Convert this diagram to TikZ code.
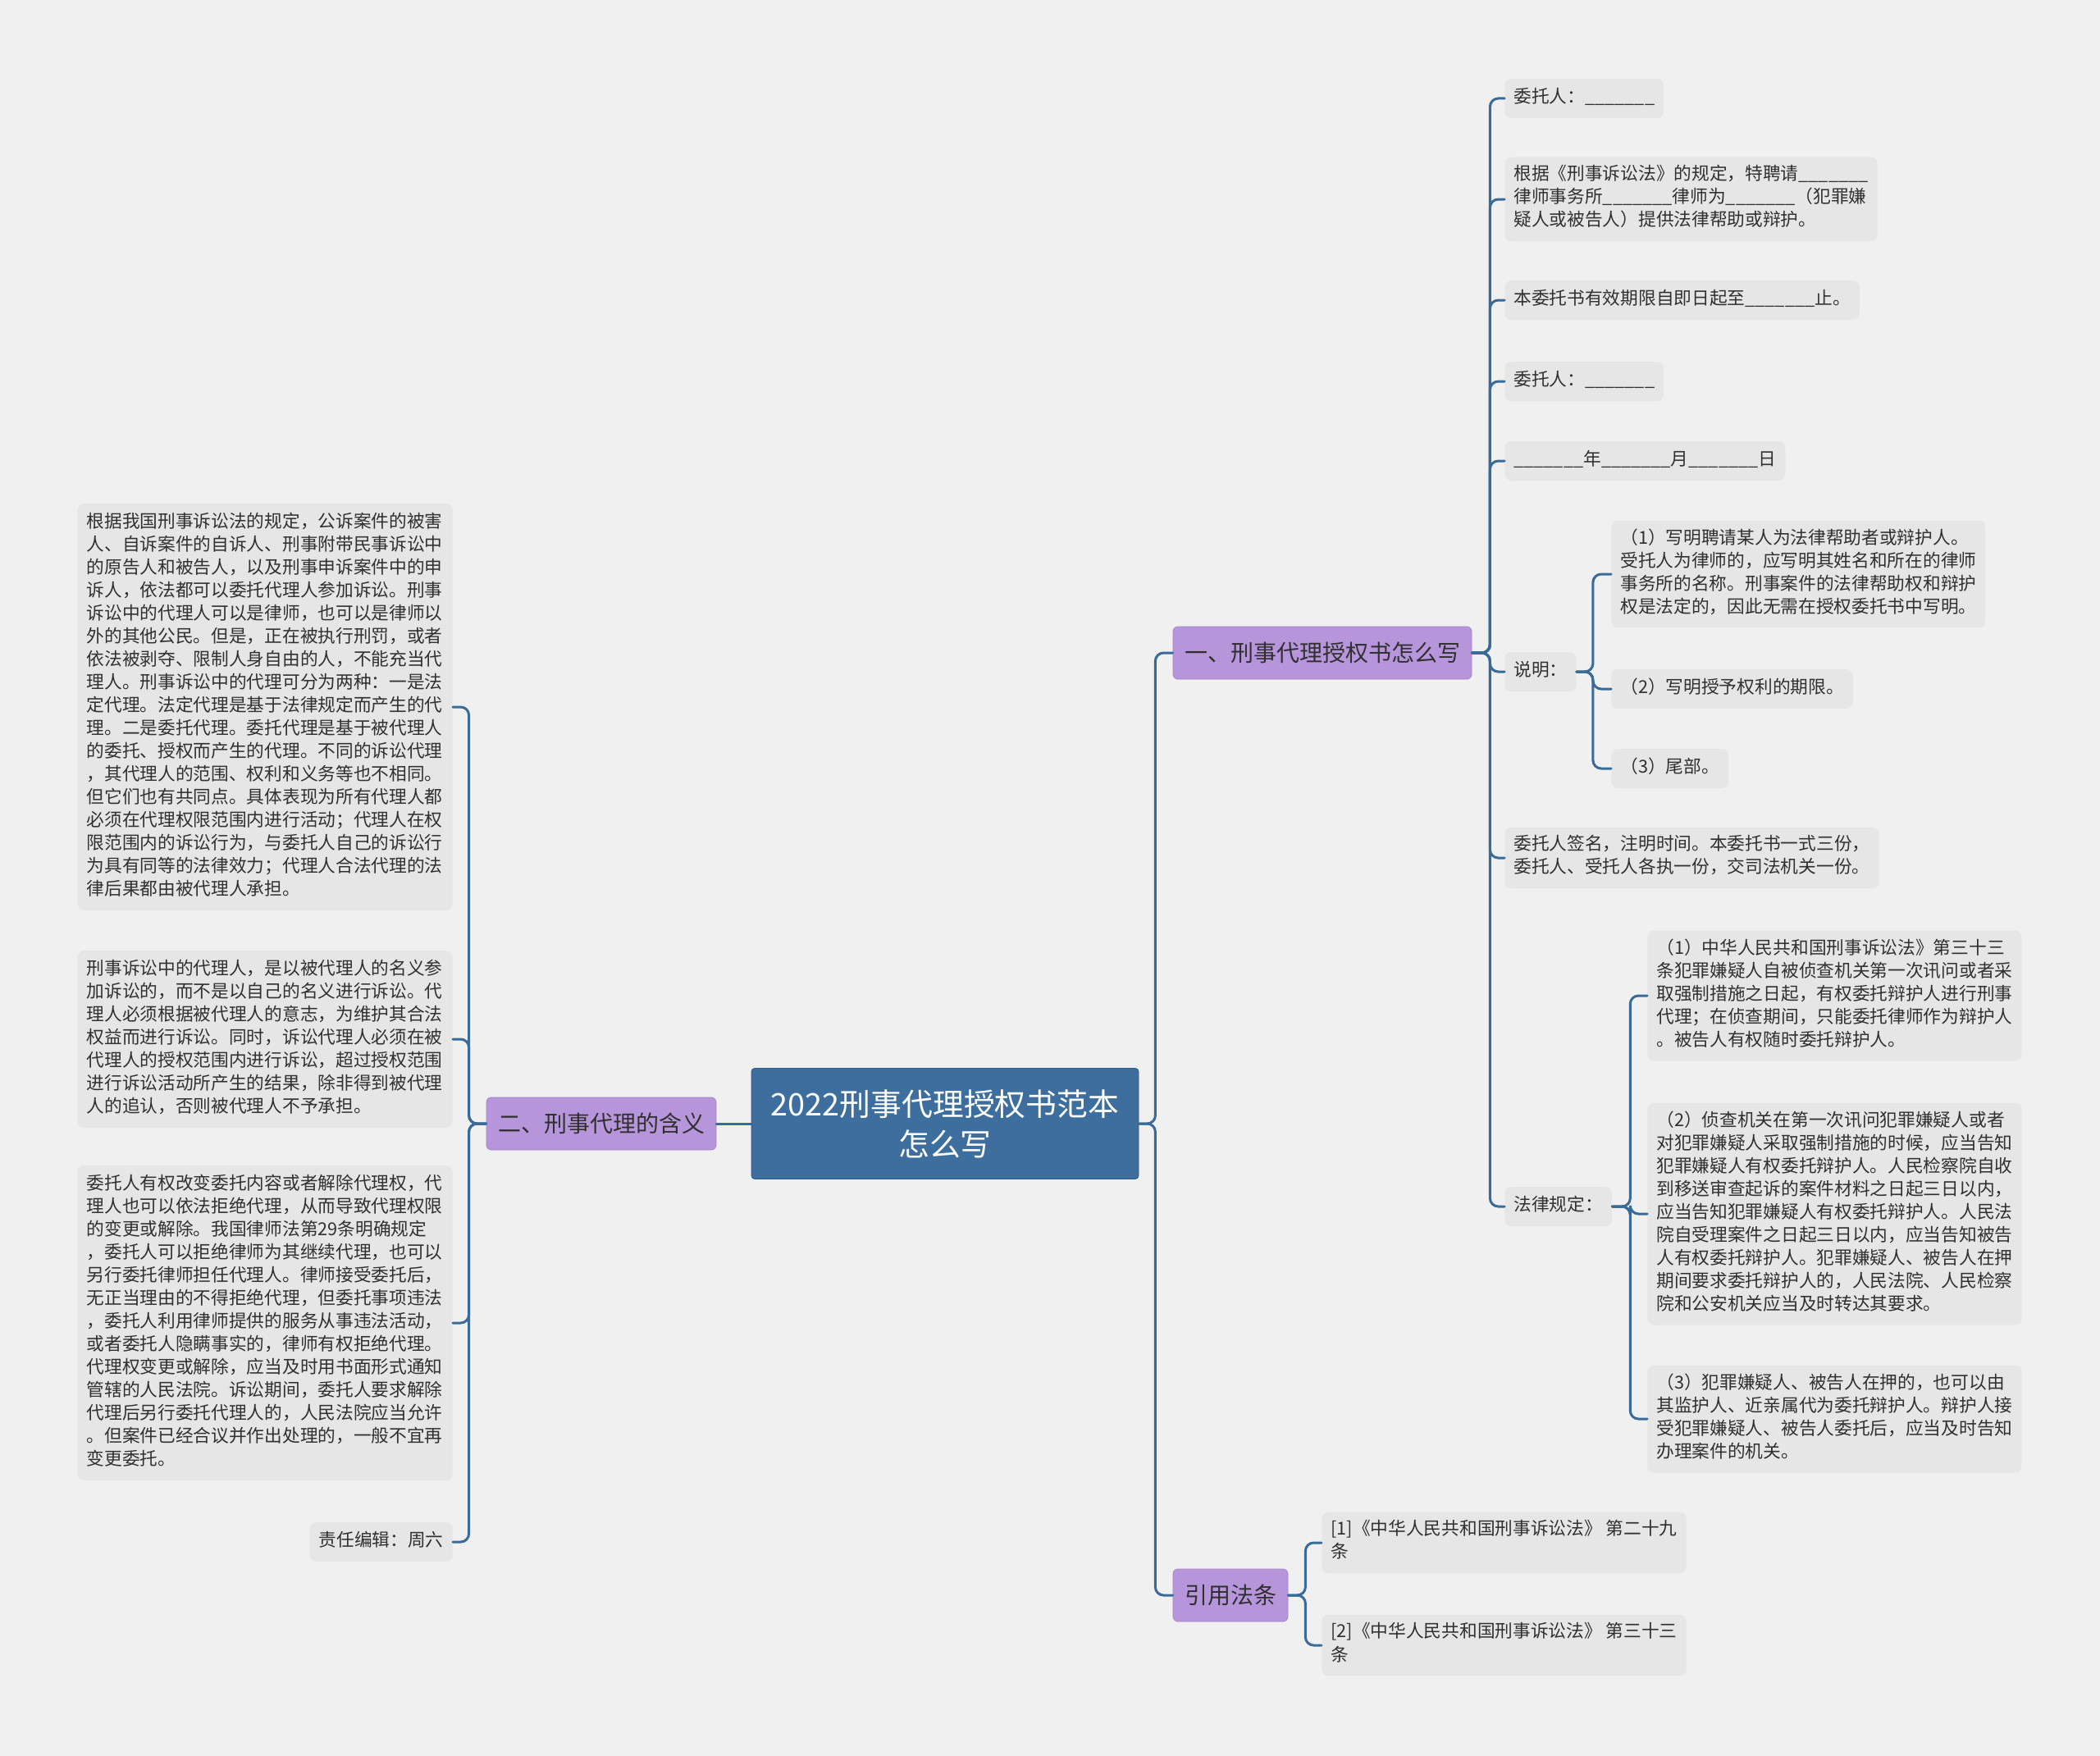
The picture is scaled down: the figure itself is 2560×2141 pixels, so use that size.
\documentclass[tikz,border=0pt]{standalone}
\usepackage{fontspec}
\setmainfont{Noto Sans CJK SC}
\definecolor{bggray}{HTML}{F0F0F0}
\definecolor{leafgray}{HTML}{E6E6E6}
\definecolor{leaftext}{HTML}{303030}
\definecolor{rootblue}{HTML}{3D6E9E}
\definecolor{rootborder}{HTML}{2F5C88}
\definecolor{branchpurple}{HTML}{B795DB}
\definecolor{branchborder}{HTML}{A483C8}
\definecolor{linkblue}{HTML}{3A6A98}
\begin{document}
\begin{tikzpicture}[x=0.5pt, y=-0.5pt, line cap=round]
        \tikzstyle{root}=[draw=rootborder, fill=rootblue, text=white, rounded corners=2pt, minimum width=236pt, minimum height=67.5pt, align=center, font=\fontsize{18.9}{24.5}\selectfont]
        \tikzstyle{branch}=[draw=branchborder, fill=branchpurple, text=leaftext, rounded corners=3pt, minimum height=32pt, inner xsep=7pt, font=\fontsize{14}{16}\selectfont]
        \tikzstyle{leaf}=[fill=leafgray, text=leaftext, rounded corners=4pt, align=left, inner xsep=5.5pt, inner ysep=5pt, font=\fontsize{10.85}{14}\selectfont, execute at begin node=\strut, execute at end node=\strut]
        \tikzstyle{para}=[leaf, text width=217.5pt]
        \tikzstyle{link}=[draw=linkblue, line width=1.5pt, rounded corners=5pt]

        \fill[bggray] (0,0) rectangle (2560,2141);

        \node[root](R) at (1152,1370){2022刑事代理授权书范本\\怎么写};
        \node[branch](B1) at (1612,796){一、刑事代理授权书怎么写};
        \node[branch](B2) at (733,1370){二、刑事代理的含义};
        \node[branch](B3) at (1500,1945){引用法条};

        \node[leaf, anchor=west](W1) at (1834,120){委托人：\_\_\_\_\_\_\_};
        \node[leaf, anchor=west](W2) at (1834,243){根据《刑事诉讼法》的规定，特聘请\_\_\_\_\_\_\_\\律师事务所\_\_\_\_\_\_\_律师为\_\_\_\_\_\_\_（犯罪嫌\\疑人或被告人）提供法律帮助或辩护。};
        \node[leaf, anchor=west](W3) at (1834,366){本委托书有效期限自即日起至\_\_\_\_\_\_\_止。};
        \node[leaf, anchor=west](W4) at (1834,465){委托人：\_\_\_\_\_\_\_};
        \node[leaf, anchor=west](W5) at (1834,562){\_\_\_\_\_\_\_年\_\_\_\_\_\_\_月\_\_\_\_\_\_\_日};
        \node[leaf, anchor=west](N) at (1834,819){说明：};
        \node[leaf, anchor=west](N1) at (1964,700){（1）写明聘请某人为法律帮助者或辩护人。\\受托人为律师的，应写明其姓名和所在的律师\\事务所的名称。刑事案件的法律帮助权和辩护\\权是法定的，因此无需在授权委托书中写明。};
        \node[leaf, anchor=west](N2) at (1964,840){（2）写明授予权利的期限。};
        \node[leaf, anchor=west](N3) at (1964,937){（3）尾部。};
        \node[leaf, anchor=west](W6) at (1834,1046){委托人签名，注明时间。本委托书一式三份，\\委托人、受托人各执一份，交司法机关一份。};
        \node[leaf, anchor=west](L) at (1834,1471){法律规定：};
        \node[leaf, anchor=west](L1) at (2008,1214){（1）中华人民共和国刑事诉讼法》第三十三\\条犯罪嫌疑人自被侦查机关第一次讯问或者采\\取强制措施之日起，有权委托辩护人进行刑事\\代理；在侦查期间，只能委托律师作为辩护人\\。被告人有权随时委托辩护人。};
        \node[leaf, anchor=west](L2) at (2008,1480){（2）侦查机关在第一次讯问犯罪嫌疑人或者\\对犯罪嫌疑人采取强制措施的时候，应当告知\\犯罪嫌疑人有权委托辩护人。人民检察院自收\\到移送审查起诉的案件材料之日起三日以内，\\应当告知犯罪嫌疑人有权委托辩护人。人民法\\院自受理案件之日起三日以内，应当告知被告\\人有权委托辩护人。犯罪嫌疑人、被告人在押\\期间要求委托辩护人的，人民法院、人民检察\\院和公安机关应当及时转达其要求。};
        \node[leaf, anchor=west](L3) at (2008,1730){（3）犯罪嫌疑人、被告人在押的，也可以由\\其监护人、近亲属代为委托辩护人。辩护人接\\受犯罪嫌疑人、被告人委托后，应当及时告知\\办理案件的机关。};
        \node[leaf, anchor=west](C1) at (1611,1881){[1]《中华人民共和国刑事诉讼法》 第二十九\\条};
        \node[leaf, anchor=west](C2) at (1611,2006){[2]《中华人民共和国刑事诉讼法》 第三十三\\条};

        \node[para, anchor=east](P1) at (552,862){根据我国刑事诉讼法的规定，公诉案件的被害\\人、自诉案件的自诉人、刑事附带民事诉讼中\\的原告人和被告人，以及刑事申诉案件中的申\\诉人，依法都可以委托代理人参加诉讼。刑事\\诉讼中的代理人可以是律师，也可以是律师以\\外的其他公民。但是，正在被执行刑罚，或者\\依法被剥夺、限制人身自由的人，不能充当代\\理人。刑事诉讼中的代理可分为两种：一是法\\定代理。法定代理是基于法律规定而产生的代\\理。二是委托代理。委托代理是基于被代理人\\的委托、授权而产生的代理。不同的诉讼代理\\，其代理人的范围、权利和义务等也不相同。\\但它们也有共同点。具体表现为所有代理人都\\必须在代理权限范围内进行活动；代理人在权\\限范围内的诉讼行为，与委托人自己的诉讼行\\为具有同等的法律效力；代理人合法代理的法\\律后果都由被代理人承担。};
        \node[para, anchor=east](P2) at (552,1267){刑事诉讼中的代理人，是以被代理人的名义参\\加诉讼的，而不是以自己的名义进行诉讼。代\\理人必须根据被代理人的意志，为维护其合法\\权益而进行诉讼。同时，诉讼代理人必须在被\\代理人的授权范围内进行诉讼，超过授权范围\\进行诉讼活动所产生的结果，除非得到被代理\\人的追认，否则被代理人不予承担。};
        \node[para, anchor=east](P3) at (552,1613){委托人有权改变委托内容或者解除代理权，代\\理人也可以依法拒绝代理，从而导致代理权限\\的变更或解除。我国律师法第29条明确规定\\，委托人可以拒绝律师为其继续代理，也可以\\另行委托律师担任代理人。律师接受委托后，\\无正当理由的不得拒绝代理，但委托事项违法\\，委托人利用律师提供的服务从事违法活动，\\或者委托人隐瞒事实的，律师有权拒绝代理。\\代理权变更或解除，应当及时用书面形式通知\\管辖的人民法院。诉讼期间，委托人要求解除\\代理后另行委托代理人的，人民法院应当允许\\。但案件已经合议并作出处理的，一般不宜再\\变更委托。};
        \node[leaf, anchor=east](P4) at (552,1880){责任编辑：周六};

        \draw[link] (R) -- (B2);
        \draw[link] (R.east) -- ++(20,0) |- (B1.west);
        \draw[link] (R.east) -- ++(20,0) |- (B3.west);

        \draw[link] (B1.east) -- ++(22,0) |- (W1.west);
        \draw[link] (B1.east) -- ++(22,0) |- (W2.west);
        \draw[link] (B1.east) -- ++(22,0) |- (W3.west);
        \draw[link] (B1.east) -- ++(22,0) |- (W4.west);
        \draw[link] (B1.east) -- ++(22,0) |- (W5.west);
        \draw[link] (B1.east) -- ++(22,0) |- (N.west);
        \draw[link] (B1.east) -- ++(22,0) |- (W6.west);
        \draw[link] (B1.east) -- ++(22,0) |- (L.west);

        \draw[link] (N.east) -- ++(20,0) |- (N1.west);
        \draw[link] (N.east) -- ++(20,0) |- (N2.west);
        \draw[link] (N.east) -- ++(20,0) |- (N3.west);

        \draw[link] (L.east) -- ++(22,0) |- (L1.west);
        \draw[link] (L.east) -- ++(22,0) |- (L2.west);
        \draw[link] (L.east) -- ++(22,0) |- (L3.west);

        \draw[link] (B3.east) -- ++(21,0) |- (C1.west);
        \draw[link] (B3.east) -- ++(21,0) |- (C2.west);

        \draw[link] (B2.west) -- ++(-21,0) |- (P1.east);
        \draw[link] (B2.west) -- ++(-21,0) |- (P2.east);
        \draw[link] (B2.west) -- ++(-21,0) |- (P3.east);
        \draw[link] (B2.west) -- ++(-21,0) |- (P4.east);

        \end{tikzpicture}
\end{document}
